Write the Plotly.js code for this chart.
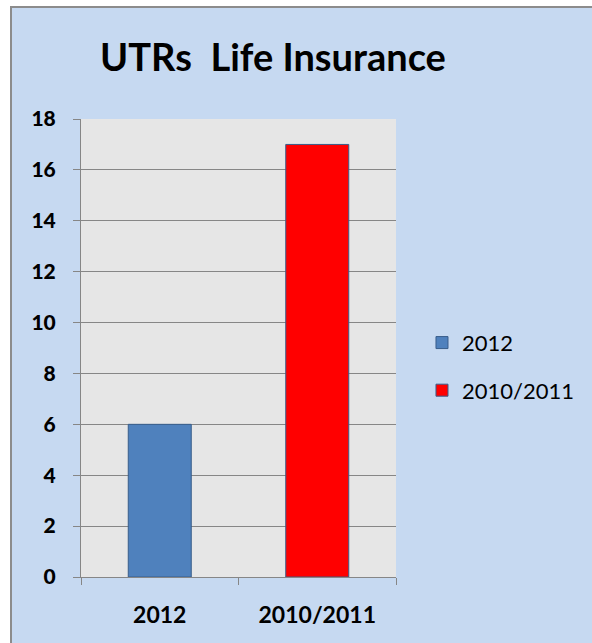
<!DOCTYPE html>
<html>
<head>
<meta charset="utf-8">
<script src="https://cdn.plot.ly/plotly-3.0.1.min.js"></script>
<style>
html,body{margin:0;padding:0;background:#ffffff;overflow:hidden;}
#wrap{position:absolute;left:10px;top:6px;width:582px;height:637px;border-left:2px solid #8c8c8c;border-top:2px solid #8c8c8c;background:#c6d9f1;}
#chart{position:absolute;left:0;top:0;width:580px;height:635px;}
</style>
</head>
<body>
<div id="wrap"><div id="chart"></div></div>
<script>
const categories = ["2012", "2010/2011"];
const values = [6, 17];
const seriesNames = ["2012", "2010/2011"];
const barColors = ["#4f81bd", "#ff0000"];
const yTicks = [0, 2, 4, 6, 8, 10, 12, 14, 16, 18];

const traces = categories.map((c, i) => ({
  type: "bar",
  x: [c],
  y: [values[i]],
  name: seriesNames[i],
  legendgroup: "g" + i,
  width: 0.4,
  marker: {color: barColors[i], line: {color: "#385d8a", width: 1}},
  hoverinfo: "x+y"
}));

const FONT = "Lato, 'Open Sans', sans-serif";

const layout = {
  width: 580, height: 635,
  margin: {l: 69, r: 196, t: 111, b: 66},
  paper_bgcolor: "#c6d9f1",
  plot_bgcolor: "#e6e6e6",
  barmode: "overlay",
  font: {family: FONT, color: "#000000"},
  title: {
    text: "UTRs  Life Insurance",
    font: {size: 38, family: FONT, color: "#000000", weight: "bold"},
    x: 0.45, xref: "container", xanchor: "center",
    y: 0.921, yref: "container", yanchor: "middle"
  },
  xaxis: {
    type: "category",
    categoryorder: "array", categoryarray: categories,
    range: [-0.5, 1.5],
    tickson: "boundaries",
    ticks: "outside", ticklen: 7, tickcolor: "#868686", tickwidth: 1,
    showline: true, linecolor: "#868686", linewidth: 1,
    showgrid: false,
    tickfont: {size: 23, family: FONT, color: "#000000", weight: "bold"},
    ticklabelstandoff: 17
  },
  yaxis: {
    range: [0, 18],
    tickvals: yTicks,
    ticktext: yTicks.map(String),
    ticks: "outside", ticklen: 7, tickcolor: "#868686", tickwidth: 1,
    showline: true, linecolor: "#868686", linewidth: 1,
    showgrid: true, gridcolor: "#868686", gridwidth: 1,
    zeroline: false,
    tickfont: {size: 21, family: FONT, color: "#000000", weight: 900},
    ticklabelstandoff: 13
  },
  showlegend: true,
  legend: {
    x: 1.0825, xanchor: "left",
    y: 0.459, yanchor: "middle",
    bgcolor: "rgba(0,0,0,0)",
    font: {size: 22, family: FONT, color: "#000000"},
    traceorder: "grouped",
    tracegroupgap: 16,
    itemwidth: 30
  }
};

Plotly.newPlot("chart", traces, layout, {displayModeBar: false, staticPlot: true});
</script>
</body>
</html>
